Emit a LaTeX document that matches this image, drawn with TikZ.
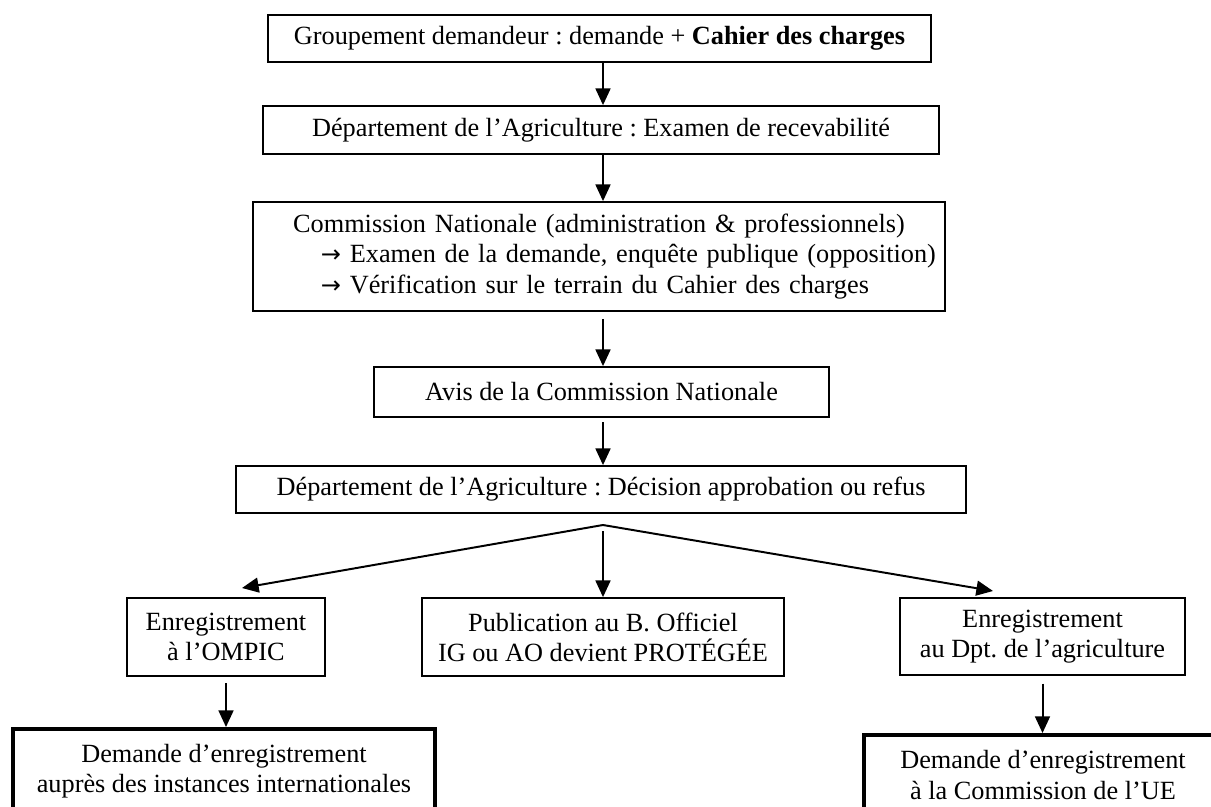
\documentclass[tikz,border=0pt]{standalone}
\usepackage{fontspec}
\setmainfont{Liberation Serif}
\newfontfamily\arrowfont{DejaVu Sans}
\usetikzlibrary{arrows.meta}
\frenchspacing
% one drawing unit in points
\def\pxu{0.4566pt}
\newcommand\bullarrow{{\arrowfont\fontsize{11pt}{13.8pt}\selectfont →}}
\begin{document}
\begin{tikzpicture}[x=0.4566pt, y=-0.4566pt,
  box/.style={draw, line width=0.8pt, inner sep=0pt, align=center,
    font=\fontsize{12pt}{13.8pt}\selectfont},
  finalbox/.style={box, line width=1.8pt},
  flow/.style={line width=0.9pt, -{Triangle[length=7.6pt,width=6.8pt]}}]
\clip (0,0) rectangle (1211,807);
\fill[white] (0,0) rectangle (1211,807);

% main chain
\node[box, minimum width=663*\pxu, minimum height=47*\pxu] (b1) at (599.5,38.5)
  {Groupement demandeur : demande + \textbf{Cahier des charges}};
\node[box, minimum width=676*\pxu, minimum height=48*\pxu] (b2) at (601,130)
  {Département de l’Agriculture : Examen de recevabilité};
\node[box, minimum width=692*\pxu, minimum height=109*\pxu, text width=316pt, align=left] (b3) at (599,256.5)
  {\makebox[316pt][c]{Commission Nationale (administration \& professionnels)}\\
   \hspace*{31pt}\mbox{\bullarrow\ Examen de la demande, enquête publique (opposition)}\\
   \hspace*{31pt}\mbox{\bullarrow\ Vérification sur le terrain du Cahier des charges}};
\node[box, minimum width=455*\pxu, minimum height=50*\pxu] (b4) at (601.5,392)
  {Avis de la Commission Nationale};
\node[box, minimum width=730*\pxu, minimum height=47*\pxu] (b5) at (601,489.5)
  {Département de l’Agriculture : Décision approbation ou refus};

% three outcomes
\node[box, minimum width=198*\pxu, minimum height=78*\pxu] (ompic) at (226,637)
  {Enregistrement\\à l’OMPIC};
\node[box, minimum width=362*\pxu, minimum height=78*\pxu] (pub) at (603,637)
  {Publication au B. Officiel\\IG ou AO devient PROTÉGÉE};
\node[box, minimum width=285*\pxu, minimum height=77*\pxu] (dpt) at (1042.5,636.5)
  {Enregistrement\\au Dpt. de l’agriculture};

% final requests
\node[finalbox, minimum width=422*\pxu, minimum height=84*\pxu] (intl) at (224,771)
  {Demande d’enregistrement\\auprès des instances internationales};
\node[finalbox, minimum width=358*\pxu, minimum height=80*\pxu] (ue) at (1043,775)
  {Demande d’enregistrement\\à la Commission de l’UE};

% connectors
\coordinate (spine) at (603,0);
\draw[flow] (b1.south -| spine) -- (b2.north -| spine);
\draw[flow] (b2.south -| spine) -- (b3.north -| spine);
\draw[flow, shorten <=3.2pt] (b3.south -| spine) -- (b4.north -| spine);
\draw[flow, shorten <=2pt] (b4.south -| spine) -- (b5.north -| spine);

\coordinate (fork) at (603,525);
\coordinate (tipL) at (242,588);
\coordinate (tipR) at (993,591);
\coordinate (midstart) at (603,531);
\draw[flow] (fork) -- (tipL);
\draw[flow] (fork) -- (tipR);
\draw[flow] (midstart) -- (pub.north);

\draw[flow, shorten <=3pt] (ompic.south) -- (intl.north -| ompic.south);
\draw[flow, shorten <=3.5pt] (dpt.south) -- (ue.north -| dpt.south);
\end{tikzpicture}
\end{document}
